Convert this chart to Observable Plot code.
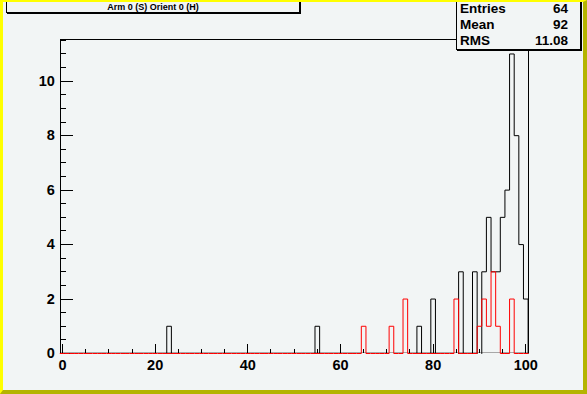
<!DOCTYPE html>
<html>
<head>
<meta charset="utf-8">
<script src="https://cdn.jsdelivr.net/npm/d3@7"></script>
<script src="https://cdn.jsdelivr.net/npm/@observablehq/plot@0.6"></script>
<style>
  html, body { margin: 0; padding: 0; background: #f2f5f5; }
  #wrap { position: relative; width: 587px; height: 394px; overflow: hidden; background: #f2f5f5;
          font-family: "Liberation Sans", Arial, Helvetica, sans-serif; font-weight: bold; color: #000; }
  #chart { position: absolute; left: 0; top: 0; }
  #title { position: absolute; left: 6px; top: 0; width: 294px; height: 13px; box-sizing: border-box;
           border: 1px solid #000; border-top: none; box-shadow: 1px 1px 0 #000; background: #f2f5f5;
           font-size: 9px; line-height: 11px; padding-top: 2px; text-align: center; white-space: nowrap; }
  #stats { position: absolute; left: 456px; top: 0; width: 125px; height: 50px; box-sizing: border-box;
           border: 1px solid #000; border-top: none; box-shadow: 1px 1px 0 #000; background: #f2f5f5; }
  .row { position: absolute; left: 3px; right: 12px; height: 16px; font-size: 13.5px; line-height: 16px; }
  .row .k { position: absolute; left: 0; }
  .row .v { position: absolute; right: 0; }
  #border { position: absolute; left: 0; top: 0; width: 587px; height: 394px; box-sizing: border-box;
            border-left: 3px solid #ffff00; border-top: 2px solid #ffff00;
            border-right: 4px solid #b4b400; border-bottom: 4px solid #b4b400; pointer-events: none; }
</style>
</head>
<body>
<div id="wrap">
  <div id="chart"></div>
  <div id="title"></div>
  <div id="stats"></div>
  <div id="border"></div>
</div>
<script>
// ---- data ----
const titleText = "Arm 0 (S) Orient 0 (H)";
const binRange = [0, 100];            // integer bin centres, width 1
const blackBins   = [23, 55, 77, 80, 86, 89, 91, 92, 93, 94, 95, 96, 97, 98, 99, 100];
const blackCounts = [ 1,  1,  1,  2,  3,  3,  3,  5,  3,  3,  5,  6, 11,  8,  4,   2];
const redBins     = [65, 71, 74, 85, 90, 91, 92, 93, 94, 97];
const redCounts   = [ 1,  1,  2,  2,  1,  2,  1,  3,  1,  2];
const statLabels  = ["Entries", "Mean", "RMS"];
const statValues  = ["64", "92", "11.08"];
const xTickLabels = [0, 20, 40, 60, 80, 100];
const xMinorTicks = d3.range(0, 101, 5);
const yTickLabels = [0, 2, 4, 6, 8, 10];
const yMinorTicks = d3.range(0, 11.51, 0.5);
const xDomain = [-0.5, 100.5];
const yDomain = [0, 11.55];

// ---- layout ----
const W = 587, H = 394;
const mL = 59.7, mR = 59.4, mT = 38.5, mB = 41;
const frameW = W - mL - mR, frameH = H - mT - mB;

// full outline including zero runs (drawn along the baseline)
function steps(bins, counts) {
  const m = new Map(bins.map((b, i) => [b, counts[i]]));
  const pts = [];
  for (let c = binRange[0]; c <= binRange[1]; c++) {
    const v = m.get(c) || 0;
    pts.push({x: c - 0.5, y: v}, {x: c + 0.5, y: v});
  }
  return pts;
}
// outline of non-empty runs only (gaps where the bins are empty)
function stepRuns(bins, counts) {
  const m = new Map(bins.map((b, i) => [b, counts[i]]));
  const pts = [];
  let inRun = false;
  for (let c = binRange[0]; c <= binRange[1]; c++) {
    const v = m.get(c) || 0;
    if (v > 0) {
      if (!inRun) pts.push({x: c - 0.5, y: 0});
      pts.push({x: c - 0.5, y: v}, {x: c + 0.5, y: v});
      inRun = true;
    } else if (inRun) {
      pts.push({x: c - 0.5, y: 0}, {x: c - 0.5, y: NaN});
      inRun = false;
    }
  }
  if (inRun) pts.push({x: binRange[1] + 0.5, y: 0});
  return pts;
}
const blackPts = stepRuns(blackBins, blackCounts);
const redPts = steps(redBins, redCounts);

const crisp = {shapeRendering: "crispEdges"};
const chart = Plot.plot({
  width: W, height: H,
  marginLeft: mL, marginRight: mR, marginTop: mT, marginBottom: mB,
  x: {domain: xDomain},
  y: {domain: yDomain},
  style: {background: "transparent", fontFamily: "'Liberation Sans', Arial, Helvetica, sans-serif",
          fontWeight: "bold", fontSize: "14.5px", color: "#000", overflow: "visible"},
  marks: [
    Plot.ruleY([yDomain[0]], {stroke: "#a8a8a8", dy: -1, ...crisp}),
    Plot.ruleY([yDomain[1]], {stroke: "#000", ...crisp}),
    Plot.ruleX(xDomain, {stroke: "#000", ...crisp}),
    Plot.tickX(xMinorTicks, {x: d => d, stroke: "#000", insetTop: frameH - 4.5, ...crisp}),
    Plot.tickX(xTickLabels, {x: d => d, stroke: "#000", insetTop: frameH - 9, ...crisp}),
    Plot.tickY(yMinorTicks, {y: d => d, stroke: "#000", insetRight: frameW - 6, ...crisp}),
    Plot.tickY(yTickLabels, {y: d => d, stroke: "#000", insetRight: frameW - 13, ...crisp}),
    Plot.line(blackPts, {x: "x", y: "y", stroke: "#000", strokeWidth: 1, strokeLinejoin: "miter", curve: "linear"}),
    Plot.line(redPts, {x: "x", y: "y", stroke: "#ff0000", strokeWidth: 1, strokeLinejoin: "miter", curve: "linear"}),
    Plot.axisX(xTickLabels, {tickSize: 0, tickPadding: 6, label: null}),
    Plot.axisY(yTickLabels, {tickSize: 0, tickPadding: 5.4, label: null})
  ]
});
document.getElementById("chart").appendChild(chart);

document.getElementById("title").textContent = titleText;
const stats = document.getElementById("stats");
const rowTops = [0.5, 16.5, 32.5];
statLabels.forEach((k, i) => {
  const r = document.createElement("div");
  r.className = "row";
  r.style.top = rowTops[i] + "px";
  const a = document.createElement("span"); a.className = "k"; a.textContent = k;
  const b = document.createElement("span"); b.className = "v"; b.textContent = statValues[i];
  r.appendChild(a); r.appendChild(b);
  stats.appendChild(r);
});
</script>
</body>
</html>
